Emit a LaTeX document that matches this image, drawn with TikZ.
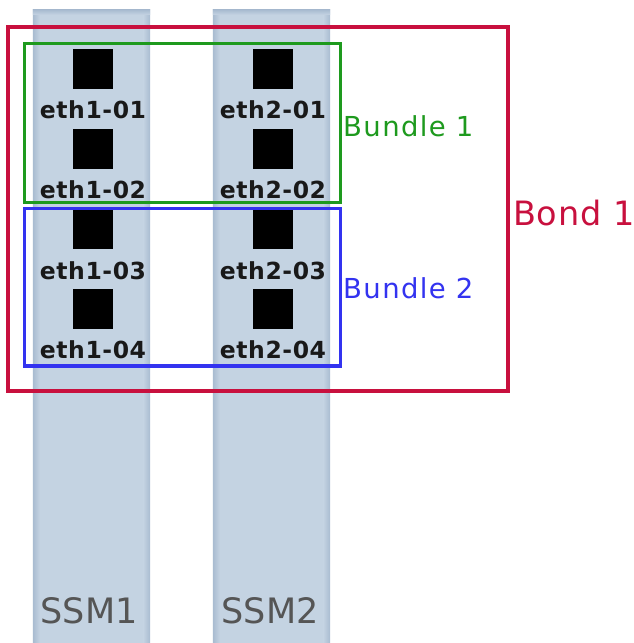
\documentclass[tikz,border=0pt]{standalone}
\usepackage{fontspec}
\setmainfont{DejaVu Sans}
\newfontfamily\portfont[LetterSpace=2.5]{DejaVu Sans Bold}
\newfontfamily\groupfont[LetterSpace=5]{DejaVu Sans}
\newfontfamily\bondfont[LetterSpace=2.5]{DejaVu Sans}
\definecolor{colfill}{HTML}{C4D3E2}
\definecolor{coledge}{HTML}{A8BBD0}
\definecolor{bondred}{HTML}{C8103E}
\definecolor{bundlegreen}{HTML}{1E9A1E}
\definecolor{bundleblue}{HTML}{3333F0}
\definecolor{ssmgray}{HTML}{555555}
\tikzset{
  ssmcol/.style={rectangle, fill=colfill, inner sep=0, minimum width=117pt, minimum height=633pt},
  port/.style={rectangle, fill=black, inner sep=0, minimum size=40pt},
  portlabel/.style={anchor=base, inner sep=0, text=black!90, font=\portfont\fontsize{23.5}{23.5}\selectfont},
  ssmlabel/.style={anchor=base, inner sep=0, text=ssmgray, font=\fontsize{35}{35}\selectfont},
  groupbox/.style={rectangle, draw, line width=3.2pt, inner sep=0},
  grouplabel/.style={anchor=base west, inner sep=0, font=\groupfont\fontsize{27.5}{27.5}\selectfont},
}
\begin{document}
\begin{tikzpicture}[x=1pt, y=-1pt]
\useasboundingbox[fill=white] (0,0) rectangle (633,643);

% the two SSM columns with darker shaded edges
\foreach \name/\cx in {ssmA/91.5, ssmB/271.5} {
  \node[ssmcol] (\name) at (\cx,326.5) {};
  \shade[left color=coledge, right color=colfill] (\name.north west) rectangle ([xshift=7pt]\name.south west);
  \shade[left color=colfill, right color=coledge] ([xshift=-7pt]\name.north east) rectangle (\name.south east);
  \shade[top color=coledge, bottom color=colfill] (\name.north west) rectangle ([yshift=-5pt]\name.north east);
}

% ports and their labels
\foreach \i/\py/\ly in {1/69/118, 2/149/198, 3/229/279, 4/309/358} {
  \node[port] (p1\i) at (93,\py) {};
  \node[port] (p2\i) at (273,\py) {};
  \node[portlabel] (l1\i) at (93,\ly) {eth1-0\i};
  \node[portlabel] (l2\i) at (273,\ly) {eth2-0\i};
}

% column names
\node[ssmlabel] (n1) at (89,623) {SSM1};
\node[ssmlabel] (n2) at (270,623) {SSM2};

% bond and bundle frames
\node[groupbox, draw=bondred, minimum width=500pt, minimum height=364pt] (bond) at (258,209) {};
\node[groupbox, draw=bundlegreen, minimum width=316pt, minimum height=158.6pt] (bundleA) at (182.8,123) {};
\node[groupbox, draw=bundleblue, minimum width=316pt, minimum height=157.7pt] (bundleB) at (182.8,287.2) {};

\node[grouplabel, text=bundlegreen] (tA) at (343,136) {Bundle 1};
\node[grouplabel, text=bundleblue] (tB) at (343,298) {Bundle 2};
\node[grouplabel, text=bondred, font=\bondfont\fontsize{33.5}{33.5}\selectfont] (tbond) at (513,225) {Bond 1};
\end{tikzpicture}
\end{document}
